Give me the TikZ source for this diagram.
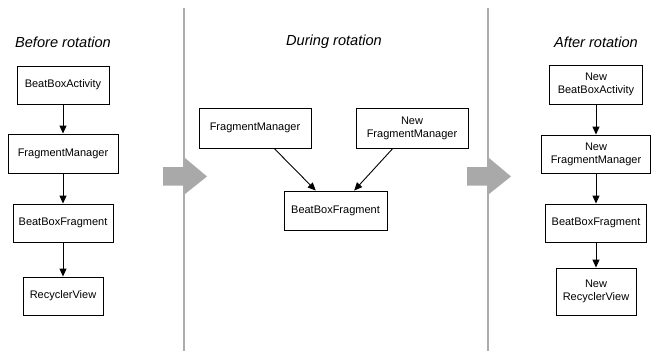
\documentclass[tikz,border=0pt]{standalone}
\usepackage{fontspec}
\setmainfont{Liberation Sans}
\usetikzlibrary{arrows.meta,calc}
\definecolor{divgray}{HTML}{ABABAB}
\definecolor{arrgray}{HTML}{A9A9A9}
\begin{document}
\begin{tikzpicture}[x=1pt,y=-1pt,
  box/.style={draw=black,line width=0.9pt,fill=white,inner sep=0pt,align=center,
    font=\fontsize{11}{13}\selectfont},
  title/.style={font=\fontsize{14.6}{16}\selectfont\itshape},
  conn/.style={-{Triangle[length=8pt,width=7pt]},line width=0.9pt,black},
  divider/.style={draw=divgray,line width=1.3pt},
  bigarrow/.style={fill=arrgray,draw=none}]
\useasboundingbox (0,0) rectangle (651,351);
% dividers
\draw[divider] (184,8) -- (184,351);
\draw[divider] (488,8) -- (488,351);
% big arrows
\foreach \dx in {0,304}{
  \fill[bigarrow] (163+\dx,167) -- (185+\dx,167) -- (185+\dx,158) -- (207+\dx,176.5)
    -- (185+\dx,194) -- (185+\dx,185.5) -- (163+\dx,185.5) -- cycle;
}
% titles
\node[title] (t1) at (63,42) {Before rotation};
\node[title] (t2) at (334,42) {During rotation};
\node[title] (t3) at (596,42) {After rotation};
% left column
\node[box,minimum width=92pt,minimum height=38pt] (bbaL) at (63,85) {BeatBoxActivity};
\node[box,minimum width=110pt,minimum height=39pt] (fmL) at (63,153.5) {FragmentManager};
\node[box,minimum width=100pt,minimum height=38pt] (bbfL) at (63,223) {BeatBoxFragment};
\node[box,minimum width=80pt,minimum height=38pt] (rvL) at (63,296) {RecyclerView};
\draw[conn] (bbaL.south) -- (fmL.north);
\draw[conn] (fmL.south) -- (bbfL.north);
\draw[conn] (bbfL.south) -- (rvL.north);
% middle
\node[box,minimum width=112pt,minimum height=40pt] (fmM) at (255,128) {FragmentManager};
\node[box,minimum width=112pt,minimum height=40pt] (nfmM) at (412,128) {New\\FragmentManager};
\node[box,minimum width=103pt,minimum height=39pt] (bbfM) at (335.5,210.5) {BeatBoxFragment};
\draw[conn] ($(fmM.south west)!0.67!(fmM.south east)$) -- ($(bbfM.north west)!0.31!(bbfM.north east)$);
\draw[conn] ($(nfmM.south west)!0.33!(nfmM.south east)$) -- ($(bbfM.north west)!0.68!(bbfM.north east)$);
% right column
\node[box,minimum width=93pt,minimum height=39pt] (bbaR) at (596,84.5) {New\\BeatBoxActivity};
\node[box,minimum width=109pt,minimum height=38pt] (fmR) at (596,154) {New\\FragmentManager};
\node[box,minimum width=101pt,minimum height=38pt] (bbfR) at (596,223) {BeatBoxFragment};
\node[box,minimum width=80pt,minimum height=47pt] (rvR) at (596,291.5) {New\\RecyclerView};
\draw[conn] (bbaR.south) -- (fmR.north);
\draw[conn] (fmR.south) -- (bbfR.north);
\draw[conn] (bbfR.south) -- (rvR.north);
\end{tikzpicture}
\end{document}
